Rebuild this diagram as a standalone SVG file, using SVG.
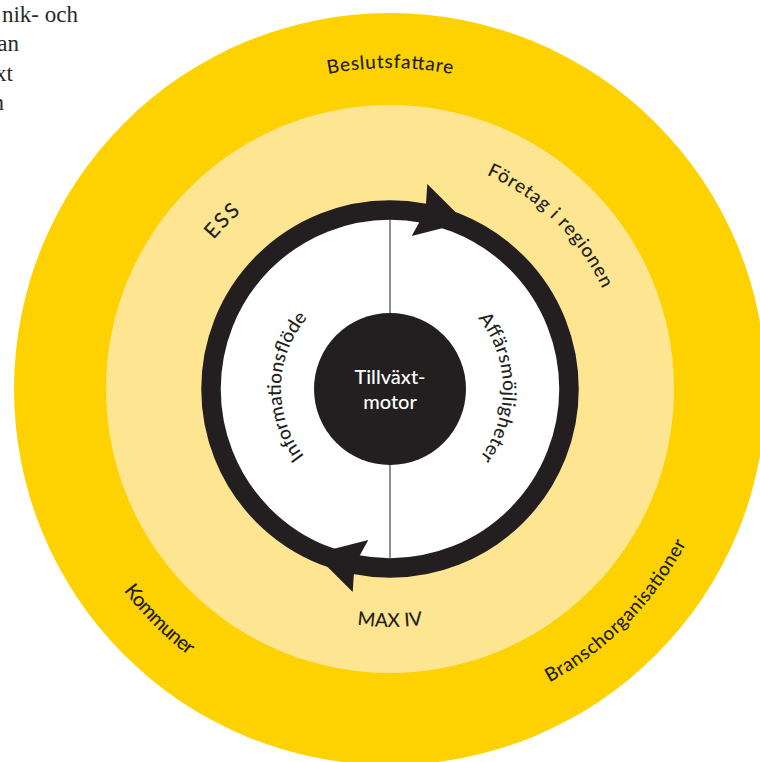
<svg xmlns="http://www.w3.org/2000/svg" width="760" height="762" viewBox="0 0 760 762">
  <defs>
    <style>
      .lbl { font-family: Lato, "Noto Sans", "DejaVu Sans", sans-serif; fill: #231F20; font-weight: 500; }
      .body { font-family: "Liberation Serif", "DejaVu Serif", serif; font-size: 23px; fill: #2B2A29; }
      .core { font-family: Lato, "Noto Sans", "DejaVu Sans", sans-serif; font-size: 20px; font-weight: 500; fill: #FFFFFF; text-anchor: middle; }
      .ink { fill: #231F20; }
    </style>
    <!-- clockwise arcs centred on the top of the circle (glyph tops point outward) -->
    <path id="arcTop321" d="M73.88,333.26 A321,321 0 0 1 706.12,333.26"/>
    <path id="arcTop235" d="M158.57,348.19 A235,235 0 0 1 621.43,348.19"/>
    <path id="arcTop231" d="M162.51,348.89 A231,231 0 0 1 617.49,348.89"/>
    <path id="arcTop109" d="M282.66,370.07 A109,109 0 0 1 497.34,370.07"/>
    <path id="arcTop113" d="M278.72,369.38 A113,113 0 0 1 501.28,369.38"/>
    <!-- counter-clockwise arcs centred on the bottom (glyph tops point inward) -->
    <path id="arcBot334" d="M61.07,447.00 A334,334 0 0 0 718.93,447.00"/>
    <path id="arcBot238" d="M155.62,430.33 A238,238 0 0 0 624.38,430.33"/>
    <!-- arrowhead riding on the cycle ring -->
    <polygon id="arrowHead" points="427.3,184 465.6,222.3 411.7,236 425.5,211"/>
  </defs>

  <rect x="0" y="0" width="760" height="762" fill="#FFFFFF"/>

  <!-- running body text at the page edge -->
  <g id="body-text" class="body" text-anchor="end">
    <text x="78" y="22">nik- och</text>
    <text x="19" y="51">an</text>
    <text x="13" y="80.5">xt</text>
    <text x="4" y="110">n</text>
  </g>

  <!-- concentric bands -->
  <g id="bands">
    <circle id="band-outer" cx="390" cy="389" r="376" fill="#FDD200"/>
    <circle id="band-inner" cx="390" cy="389" r="284" fill="#FEE591"/>
    <circle id="band-core" cx="390" cy="389" r="170" fill="#FFFFFF"/>
  </g>

  <!-- cycle: ring with two arrowheads and the dividing line -->
  <g id="connectors">
    <line x1="390" y1="219" x2="390" y2="558" stroke="#231F20" stroke-width="1"/>
    <circle cx="390" cy="389" r="179" fill="none" stroke="#231F20" stroke-width="19.5"/>
    <use href="#arrowHead" class="ink"/>
    <use href="#arrowHead" class="ink" transform="rotate(180 390 388)"/>
  </g>

  <g id="node-tillvaxtmotor">
    <circle cx="390" cy="389" r="76" fill="#231F20"/>
    <text class="core" x="390" y="384">Tillväxt-</text>
    <text class="core" x="390" y="409">motor</text>
  </g>

  <g id="node-beslutsfattare">
    <text class="lbl" font-size="19" font-weight="600"><textPath href="#arcTop321" startOffset="50%" text-anchor="middle" textLength="125">Beslutsfattare</textPath></text>
  </g>

  <g id="node-foretag" transform="rotate(44.5 390 389)">
    <text class="lbl" font-size="19"><textPath href="#arcTop235" startOffset="50%" text-anchor="middle" textLength="166">Företag i regionen</textPath></text>
  </g>

  <g id="node-ess" transform="rotate(-45 390 389)">
    <text class="lbl" font-size="21"><textPath href="#arcTop231" startOffset="50%" text-anchor="middle" textLength="39">ESS</textPath></text>
  </g>

  <g id="node-informationsflode" transform="rotate(-88.6 390 389)">
    <text class="lbl" font-size="19"><textPath href="#arcTop109" startOffset="50%" text-anchor="middle" textLength="150">Informationsflöde</textPath></text>
  </g>

  <g id="node-affarsmojligheter" transform="rotate(89.2 390 389)">
    <text class="lbl" font-size="19"><textPath href="#arcTop113" startOffset="50%" text-anchor="middle" textLength="150">Affärsmöjligheter</textPath></text>
  </g>

  <g id="node-kommuner" transform="rotate(45 390 389)">
    <text class="lbl" font-size="20"><textPath href="#arcBot334" startOffset="50%" text-anchor="middle" textLength="92">Kommuner</textPath></text>
  </g>

  <g id="node-branschorganisationer" transform="rotate(-45.5 390 389)">
    <text class="lbl" font-size="19"><textPath href="#arcBot334" startOffset="50%" text-anchor="middle" textLength="198">Branschorganisationer</textPath></text>
  </g>

  <g id="node-maxiv">
    <text class="lbl" font-size="19" font-weight="400"><textPath href="#arcBot238" startOffset="50%" text-anchor="middle" textLength="66">MAX IV</textPath></text>
  </g>
</svg>
